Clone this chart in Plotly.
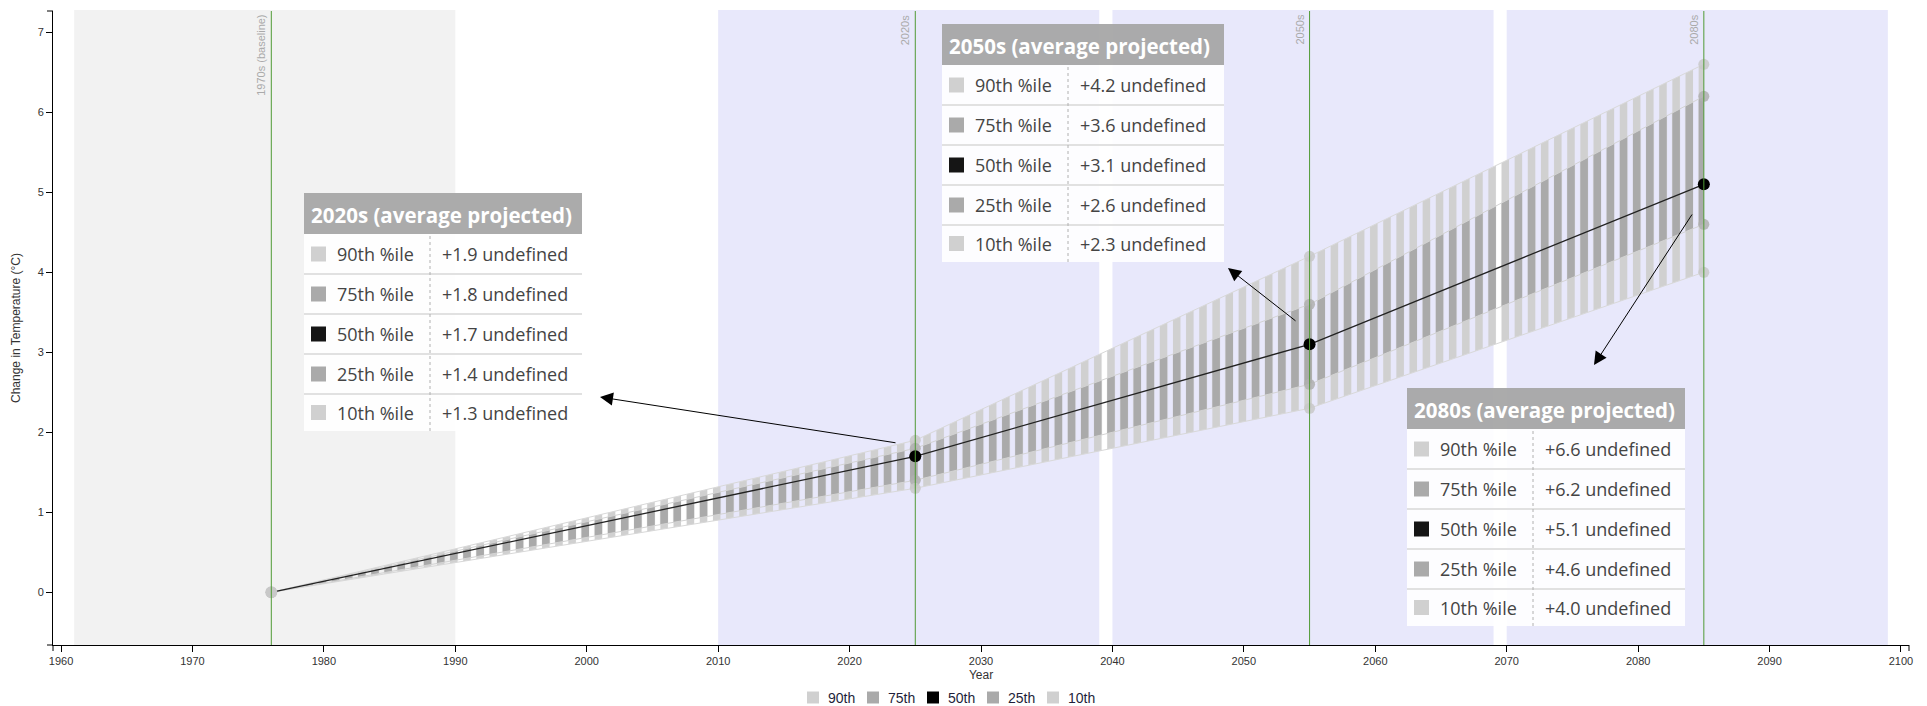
import plotly.graph_objects as go

# ---------------- data ----------------
years = [1976, 2025, 2055, 2085]
period_labels = ["1970s (baseline)", "2020s", "2050s", "2080s"]
period_start = [1961, 2010, 2040, 2070]
period_end = [1990, 2039, 2069, 2099]
p90 = [0.0, 1.9, 4.2, 6.6]
p75 = [0.0, 1.8, 3.6, 6.2]
p50 = [0.0, 1.7, 3.1, 5.1]
p25 = [0.0, 1.4, 2.6, 4.6]
p10 = [0.0, 1.3, 2.3, 4.0]
percentile_names = ["90th", "75th", "50th", "25th", "10th"]
x_ticks = [1960, 1970, 1980, 1990, 2000, 2010, 2020, 2030, 2040, 2050, 2060, 2070, 2080, 2090, 2100]
y_ticks = [0, 1, 2, 3, 4, 5, 6, 7]

# ---------------- layout constants ----------------
W, H = 1927, 706
ML, MR, MT, MB = 53, 18, 11, 61
PW, PH = W - ML - MR, H - MT - MB
X_RANGE = [1959.39, 2100.61]
Y_RANGE = [-0.659, 7.266]
PX_PER_YEAR = PW / (X_RANGE[1] - X_RANGE[0])

LIGHT = "#d0d0d0"
DARK = "#aaaaaa"
GREEN = "#4f9a35"
TXT_FONT = "Open Sans"
AX_FONT = "Liberation Sans, Arial"


def px(x):
    return (x - ML) / PW


def py(y):
    return (H - MB - y) / PH


fig = go.Figure()

# ----- percentile bands (striped) -----
fig.add_trace(go.Scatter(x=years, y=p10, mode="lines", line=dict(color="#d8d8d8", width=1),
                         hoverinfo="skip", showlegend=False))
fig.add_trace(go.Scatter(x=years, y=p90, mode="lines", line=dict(color="#d8d8d8", width=1),
                         fill="tonexty",
                         fillpattern=dict(shape="|", fgcolor=LIGHT, bgcolor="rgba(0,0,0,0)",
                                          size=PX_PER_YEAR, solidity=0.58, fillmode="replace"),
                         hoverinfo="skip", showlegend=False))
fig.add_trace(go.Scatter(x=years, y=p25, mode="lines", line=dict(color="#d3d3d3", width=1),
                         hoverinfo="skip", showlegend=False))
fig.add_trace(go.Scatter(x=years, y=p75, mode="lines", line=dict(color="#d3d3d3", width=1),
                         fill="tonexty",
                         fillpattern=dict(shape="|", fgcolor=DARK, bgcolor="rgba(0,0,0,0)",
                                          size=PX_PER_YEAR, solidity=0.58, fillmode="replace"),
                         hoverinfo="skip", showlegend=False))

# ----- green period lines (full height, via overlay axis 0..1) -----
gx, gy = [], []
for yr in years:
    gx += [yr, yr, None]
    gy += [0, 1, None]
fig.add_trace(go.Scatter(x=gx, y=gy, yaxis="y2", mode="lines", line=dict(color=GREEN, width=1),
                         hoverinfo="skip", showlegend=False))

# ----- percentile dots -----
dot_colors = {"90th": "rgba(200,200,200,0.85)", "75th": "rgba(175,175,175,0.85)",
              "25th": "rgba(175,175,175,0.85)", "10th": "rgba(200,200,200,0.85)"}
for name, vals in zip(["90th", "75th", "25th", "10th"], [p90, p75, p25, p10]):
    fig.add_trace(go.Scatter(x=years, y=vals, mode="markers",
                             marker=dict(size=11, color=dot_colors[name], line=dict(width=0)),
                             name=name, showlegend=False))

# ----- median line -----
fig.add_trace(go.Scatter(x=years, y=p50, mode="lines+markers",
                         line=dict(color="#222222", width=1.3),
                         marker=dict(size=12, color=["#c8c8c8", "#000000", "#000000", "#000000"],
                                     line=dict(width=0)),
                         name="50th", showlegend=False))

shapes = []
annotations = []

# ----- background period bands -----
for i in range(len(period_start)):
    shapes.append(dict(type="rect", xref="x", yref="paper", x0=period_start[i], x1=period_end[i],
                       y0=0, y1=py(10), fillcolor="#f2f2f2" if i == 0 else "#e8e8fb",
                       line=dict(width=0), layer="below"))

# ----- period labels on green lines -----
for i, yr in enumerate(years):
    annotations.append(dict(x=yr, xref="x", y=py(13), yref="paper", text=period_labels[i],
                            textangle=-90, xanchor="center", yanchor="top", xshift=-10,
                            showarrow=False, font=dict(family=AX_FONT, size=11, color="#aaaaaa")))

# ----- axis outer ticks (d3 style domain ends) -----
k = dict(color="#000", width=1)
shapes.append(dict(type="line", xref="paper", yref="paper", x0=0, x1=0, y0=0, y1=py(651), line=k))
shapes.append(dict(type="line", xref="paper", yref="paper", x0=1, x1=1, y0=0, y1=py(651), line=k))
shapes.append(dict(type="line", xref="paper", yref="paper", x0=px(47), x1=0, y0=1, y1=1, line=k))
shapes.append(dict(type="line", xref="paper", yref="paper", x0=px(47), x1=0, y0=0, y1=0, line=k))

# ----- summary tables -----
swatch_colors = [LIGHT, DARK, "#151515", DARK, LIGHT]
all_vals = [p90, p75, p50, p25, p10]


def add_table(idx, left, top, width=280):
    header_h, row_h, last_h = 41, 40, 37
    bottom = top + header_h + 4 * row_h + last_h
    shapes.append(dict(type="rect", xref="paper", yref="paper", x0=px(left), x1=px(left + width),
                       y0=py(bottom), y1=py(top + header_h), fillcolor="rgba(255,255,255,0.9)",
                       line=dict(width=0), layer="above"))
    shapes.append(dict(type="rect", xref="paper", yref="paper", x0=px(left), x1=px(left + width),
                       y0=py(top + header_h), y1=py(top), fillcolor="rgba(166,166,166,0.95)",
                       line=dict(width=0), layer="above"))
    annotations.append(dict(x=px(left + 5), y=py(top + header_h / 2 + 1), xref="paper", yref="paper",
                            text="<b>%s (average projected)</b>" % period_labels[idx],
                            xanchor="left", yanchor="middle", showarrow=False,
                            font=dict(family=TXT_FONT, size=20.5, color="white")))
    for r in range(5):
        rt = top + header_h + r * row_h
        rh = row_h if r < 4 else last_h
        rc = rt + rh / 2
        if r > 0:
            shapes.append(dict(type="line", xref="paper", yref="paper", x0=px(left), x1=px(left + width),
                               y0=py(rt), y1=py(rt), line=dict(color="#e1e1e1", width=2), layer="above"))
        shapes.append(dict(type="rect", xref="paper", yref="paper", x0=px(left + 7), x1=px(left + 22),
                           y0=py(rc + 7.5), y1=py(rc - 7.5), fillcolor=swatch_colors[r],
                           line=dict(width=0), layer="above"))
        annotations.append(dict(x=px(left + 31), y=py(rc), xref="paper", yref="paper",
                                text="%s %%ile" % percentile_names[r], xanchor="left", yanchor="middle",
                                showarrow=False, font=dict(family=TXT_FONT, size=18, color="#444444")))
        annotations.append(dict(x=px(left + 136), y=py(rc), xref="paper", yref="paper",
                                text="+%.1f undefined" % all_vals[r][idx], xanchor="left",
                                yanchor="middle", showarrow=False,
                                font=dict(family=TXT_FONT, size=18, color="#444444")))
    shapes.append(dict(type="line", xref="paper", yref="paper", x0=px(left + 126), x1=px(left + 126),
                       y0=py(bottom), y1=py(top + header_h),
                       line=dict(color="#b0b0b0", width=1, dash="dot"), layer="above"))


add_table(1, 304, 193, 278)
add_table(2, 942, 24, 282)
add_table(3, 1407, 388, 278)

# ----- arrows from median points to tables -----
arrows = [((600, 397), (897, 443)), ((1228, 268), (1297, 322)), ((1594, 365), (1693, 213))]
for tip, tail in arrows:
    annotations.append(dict(x=px(tip[0]), y=py(tip[1]), xref="paper", yref="paper", text="",
                            showarrow=True, ax=tail[0] - tip[0], ay=tail[1] - tip[1],
                            arrowhead=2, arrowsize=2.6, arrowwidth=1, arrowcolor="#000"))

# ----- legend (bottom, centred) -----
for i, name in enumerate(percentile_names):
    cx, cy = 813 + 60 * i, 697.5
    shapes.append(dict(type="rect", xref="paper", yref="paper", x0=px(cx - 6), x1=px(cx + 6),
                       y0=py(cy + 6), y1=py(cy - 6), fillcolor=swatch_colors[i] if i != 2 else "#000",
                       line=dict(width=0)))
    annotations.append(dict(x=px(cx + 13), y=py(cy), xref="paper", yref="paper", text=name,
                            xanchor="left", yanchor="middle", showarrow=False,
                            font=dict(family=AX_FONT, size=14, color="#1f1f3a")))

fig.update_layout(
    width=W, height=H,
    margin=dict(l=ML, r=MR, t=MT, b=MB, autoexpand=False),
    paper_bgcolor="white", plot_bgcolor="white",
    showlegend=False,
    shapes=shapes, annotations=annotations,
    xaxis=dict(range=X_RANGE, tickvals=x_ticks, ticks="outside", ticklen=6, tickcolor="#000",
               showline=True, linecolor="#000", linewidth=1, showgrid=False, zeroline=False,
               tickfont=dict(family=AX_FONT, size=11, color="#333"),
               title=dict(text="Year", font=dict(family=AX_FONT, size=12, color="#333"), standoff=4)),
    yaxis=dict(range=Y_RANGE, tickvals=y_ticks, ticks="outside", ticklen=6, tickcolor="#000",
               showline=True, linecolor="#000", linewidth=1, showgrid=False, zeroline=False,
               tickfont=dict(family=AX_FONT, size=11, color="#333"),
               title=dict(text="Change in Temperature (°C)",
                          font=dict(family=AX_FONT, size=12, color="#333"), standoff=14)),
    yaxis2=dict(range=[0, 1], overlaying="y", visible=False, fixedrange=True),
)

# remove the default page margin so the figure sits at the window's top-left corner
fig.write_html("out.html", config={"displayModeBar": False},
               post_script="document.body.style.margin='0';document.body.style.overflow='hidden';")
